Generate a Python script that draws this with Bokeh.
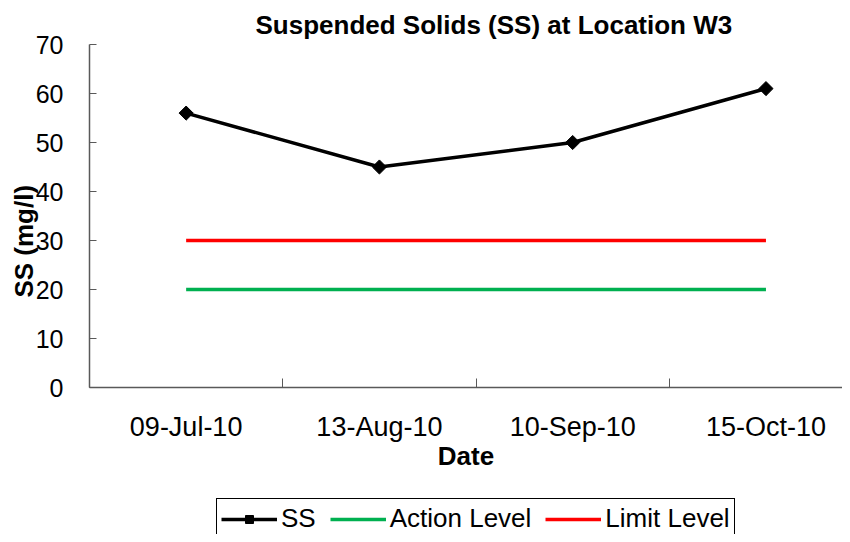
import math
from bokeh.plotting import figure
from bokeh.layouts import column
from bokeh.models import Legend, LegendItem, FixedTicker, Range1d, ColumnDataSource
from bokeh.embed import file_html
from bokeh.resources import INLINE

dates = ["09-Jul-10", "13-Aug-10", "10-Sep-10", "15-Oct-10"]
ss_values = [56, 45, 50, 61]
action_level = [20, 20, 20, 20]
limit_level = [30, 30, 30, 30]
y_ticks = [0, 10, 20, 30, 40, 50, 60, 70]

x_pos = list(range(1, len(dates) + 1))
src = ColumnDataSource(dict(x=x_pos, ss=ss_values, action=action_level, limit=limit_level))

FONT = "Liberation Sans"
AXIS_COLOR = "#595959"
W = 842
H_MAIN = 495
H_LEG = 39

p = figure(width=W, height=H_MAIN, output_backend="svg", toolbar_location=None,
           x_range=Range1d(0.5, 4.396), y_range=Range1d(0, 70),
           min_border_left=89, min_border_right=0, min_border_top=44,
           min_border_bottom=H_MAIN - 387)

p.title.text = "Suspended Solids (SS) at Location W3"
p.title.text_font = FONT
p.title.text_font_size = "26px"
p.title.text_font_style = "bold"
p.title.text_color = "black"
p.title.align = "left"
p.title.offset = 166
p.title.standoff = 10

p.outline_line_color = None
p.xgrid.grid_line_color = None
p.ygrid.grid_line_color = None
p.background_fill_color = "white"
p.border_fill_color = "white"

# x axis
xa = p.xaxis[0]
xa.ticker = FixedTicker(ticks=x_pos, minor_ticks=[i - 0.5 for i in x_pos] + [len(dates) + 0.5])
xa.major_label_overrides = {i: d for i, d in zip(x_pos, dates)}
xa.major_tick_in = 0
xa.major_tick_out = 0
xa.minor_tick_in = 9
xa.minor_tick_out = 0
xa.minor_tick_line_color = AXIS_COLOR
xa.axis_line_color = AXIS_COLOR
xa.axis_line_width = 1.5
xa.major_label_text_font = FONT
xa.major_label_text_font_size = "27px"
xa.major_label_text_color = "black"
xa.major_label_standoff = 24
xa.axis_label = "Date"
xa.axis_label_text_font = FONT
xa.axis_label_text_font_size = "26px"
xa.axis_label_text_font_style = "bold"
xa.axis_label_text_color = "black"
xa.axis_label_standoff = -4

# y axis
ya = p.yaxis[0]
ya.ticker = FixedTicker(ticks=y_ticks)
ya.major_tick_in = 7
ya.major_tick_out = 0
ya.minor_tick_line_color = None
ya.major_tick_line_color = AXIS_COLOR
ya.axis_line_color = AXIS_COLOR
ya.axis_line_width = 1.5
ya.major_label_text_font = FONT
ya.major_label_text_font_size = "25px"
ya.major_label_text_color = "black"
ya.major_label_standoff = 26
ya.axis_label = "SS (mg/l)" + "\u00a0" * 7
ya.axis_label_text_font = FONT
ya.axis_label_text_font_size = "26px"
ya.axis_label_text_font_style = "bold"
ya.axis_label_text_color = "black"
ya.axis_label_standoff = -6


def draw_series(fig):
    r_act = fig.line("x", "action", source=src, line_color="#00b050", line_width=3.5)
    r_lim = fig.line("x", "limit", source=src, line_color="#ff0000", line_width=3.5)
    r_ss = fig.line("x", "ss", source=src, line_color="black", line_width=3.5)
    r_ssm = fig.scatter("x", "ss", source=src, marker="square", size=10, angle=math.pi / 4,
                        fill_color="black", line_color="black")
    return r_act, r_lim, r_ss, r_ssm


draw_series(p)

# legend strip below the chart (its own renderers sit outside its visible range)
p2 = figure(width=W, height=H_LEG, output_backend="svg", toolbar_location=None,
            x_range=Range1d(100, 101), y_range=Range1d(1000, 1001),
            x_axis_location=None, y_axis_location=None,
            min_border_left=0, min_border_right=0, min_border_top=0, min_border_bottom=0)
p2.outline_line_color = None
p2.xgrid.grid_line_color = None
p2.ygrid.grid_line_color = None
p2.background_fill_color = "white"
p2.border_fill_color = "white"
l_act, l_lim, l_ss, l_ssm = draw_series(p2)

legend = Legend(items=[
    LegendItem(label="SS", renderers=[l_ss, l_ssm]),
    LegendItem(label="Action Level", renderers=[l_act]),
    LegendItem(label="Limit Level", renderers=[l_lim]),
], orientation="horizontal", location=(127, -5))
legend.label_text_font = FONT
legend.label_text_font_size = "26px"
legend.label_text_color = "black"
legend.label_standoff = 4
legend.glyph_width = 56
legend.spacing = 14
legend.padding = 4
legend.margin = 0
legend.border_line_color = "black"
legend.border_line_width = 1
legend.border_line_alpha = 1
legend.background_fill_alpha = 1
p2.add_layout(legend)

open("out.html", "w").write(file_html(column(p, p2, spacing=0), INLINE))
